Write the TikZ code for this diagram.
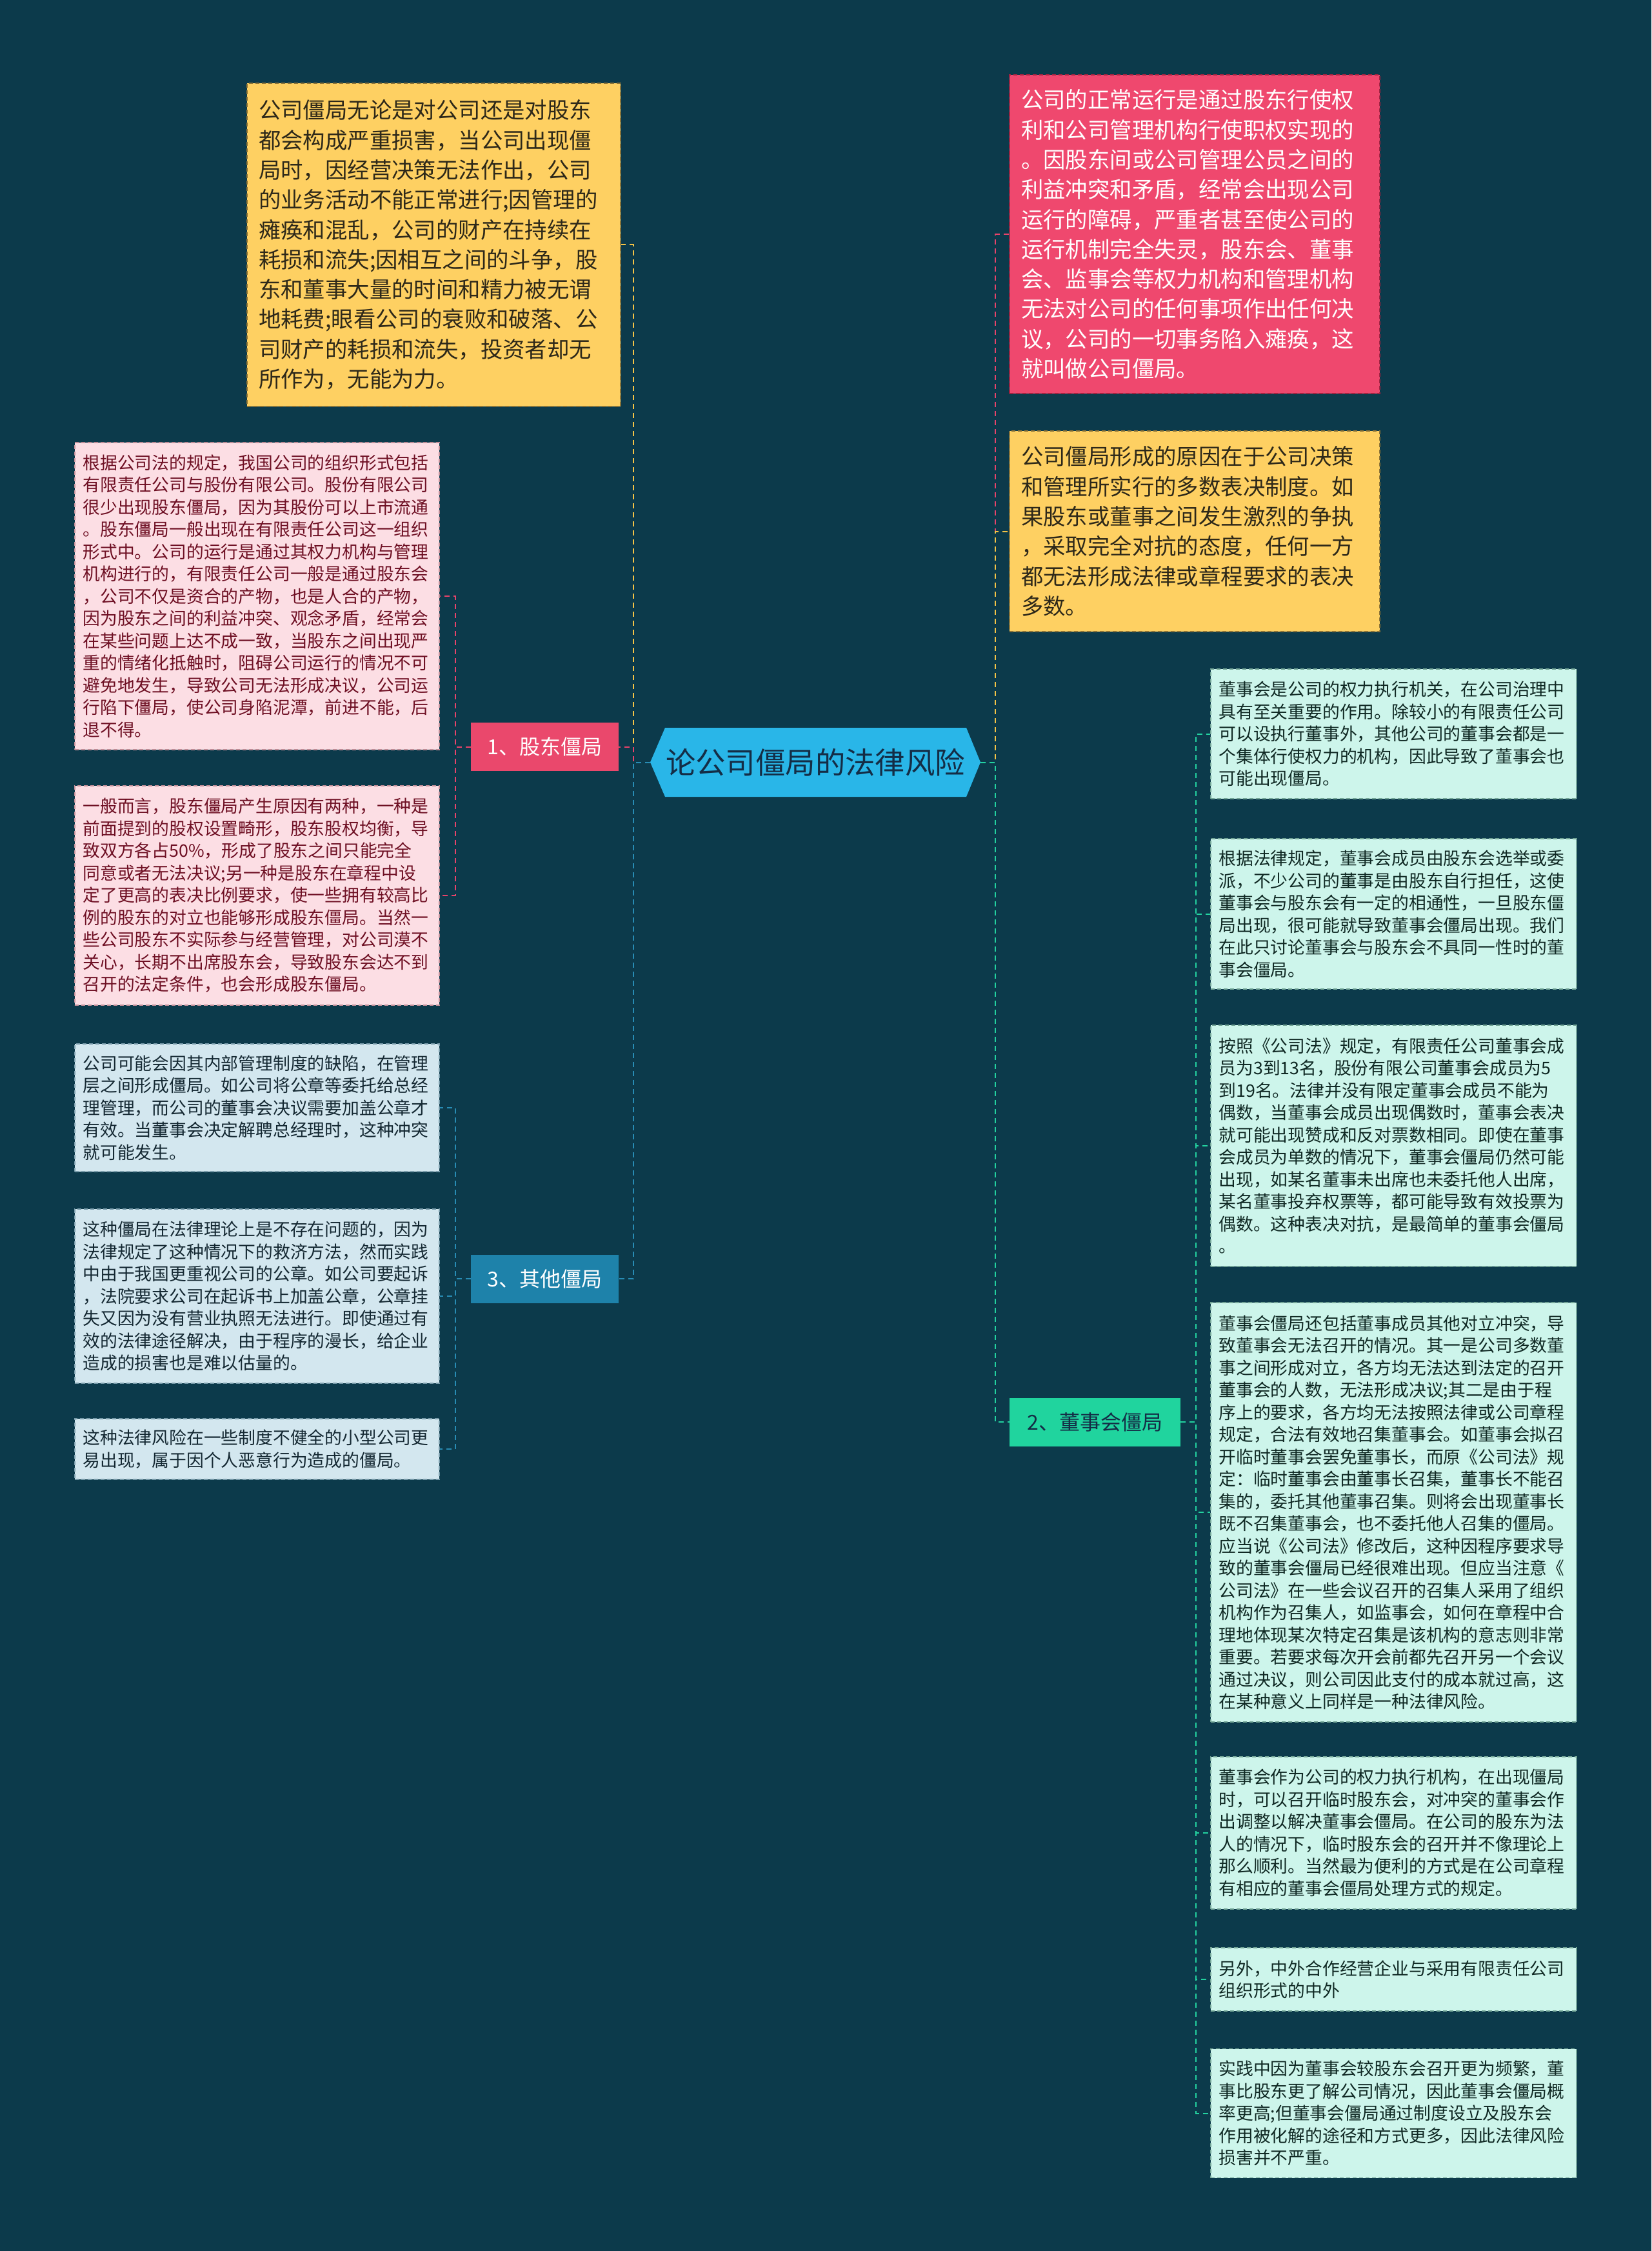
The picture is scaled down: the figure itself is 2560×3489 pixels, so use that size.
\documentclass[tikz,border=0pt]{standalone}
\usepackage{fontspec}
\setmainfont{Noto Sans CJK SC}
\usetikzlibrary{calc}
\definecolor{bgc}{RGB}{12,58,75}
\definecolor{ylfill}{RGB}{254,208,98}
\definecolor{ylline}{RGB}{140,115,55}
\definecolor{yltext}{RGB}{45,40,25}
\definecolor{rdfill}{RGB}{239,72,110}
\definecolor{rdline}{RGB}{160,35,65}
\definecolor{pkfill}{RGB}{252,222,228}
\definecolor{pkline}{RGB}{190,140,150}
\definecolor{pktext}{RGB}{110,15,35}
\definecolor{blfill}{RGB}{211,231,239}
\definecolor{blline}{RGB}{120,155,170}
\definecolor{bltext}{RGB}{20,40,50}
\definecolor{gnfill}{RGB}{205,245,235}
\definecolor{gnline}{RGB}{115,165,150}
\definecolor{gntext}{RGB}{15,40,35}
\definecolor{cfill}{RGB}{41,182,232}
\definecolor{ctext}{RGB}{20,45,70}
\definecolor{b1fill}{RGB}{234,72,108}
\definecolor{b3fill}{RGB}{30,130,170}
\definecolor{b2fill}{RGB}{32,212,158}
\definecolor{lnyl}{RGB}{245,195,70}
\definecolor{lnrd}{RGB}{232,67,106}
\definecolor{lnbl}{RGB}{40,140,180}
\definecolor{lngn}{RGB}{35,210,160}
\tikzset{
  txtS/.style={font=\fontsize{13.4}{17.25}\selectfont, align=left, inner sep=0pt},
  txtL/.style={font=\fontsize{17.2}{23.15}\selectfont, align=left, inner sep=0pt},
  bord/.style={line width=0.6pt, dash pattern=on 3pt off 2pt},
  ylbox/.style={txtL, bord, fill=ylfill, draw=ylline, text=yltext},
  rdbox/.style={txtL, bord, fill=rdfill, draw=rdline, text=white},
  pkbox/.style={txtS, bord, fill=pkfill, draw=pkline, text=pktext, minimum width=282.5pt, text width=270pt},
  blbox/.style={txtS, bord, fill=blfill, draw=blline, text=bltext, minimum width=282.5pt, text width=270pt},
  gnbox/.style={txtS, bord, fill=gnfill, draw=gnline, text=gntext, minimum width=283.5pt, text width=271pt},
  branch/.style={font=\fontsize{16}{20}\selectfont, inner sep=0pt, minimum height=37.5pt},
  conn/.style={line width=1pt, dash pattern=on 4pt off 3pt},
}
\begin{document}
\begin{tikzpicture}[x=0.5pt,y=-0.5pt]
\useasboundingbox (0,0) rectangle (2560,3489);
\fill[bgc] (0,0) rectangle (2560,3489);

% center hexagon
\fill[cfill] (1008,1181.5) -- (1031,1128) -- (1498,1128) -- (1520,1181.5) -- (1498,1235) -- (1031,1235) -- cycle;
\node[font=\fontsize{23.2}{28}\selectfont, text=ctext, inner sep=0pt, minimum width=256pt, minimum height=53.5pt] (center) at (1264,1181.5) {论公司僵局的法律风险};

% branches
\node[branch, fill=b1fill, text=white, minimum width=114.5pt] (br1) at (844.5,1157.5) {1、股东僵局};
\node[branch, fill=b3fill, text=white, minimum width=114.5pt] (br3) at (844.5,1982) {3、其他僵局};
\node[branch, fill=b2fill, text=ctext, minimum width=132.5pt] (br2) at (1697.5,2204) {2、董事会僵局};

% top left yellow
\node[ylbox, minimum width=289.5pt, minimum height=250.5pt, text width=271.5pt] (ylA) at (672.5,379.5) {公司僵局无论是对公司还是对股东\\都会构成严重损害，当公司出现僵\\局时，因经营决策无法作出，公司\\的业务活动不能正常进行;因管理的\\瘫痪和混乱，公司的财产在持续在\\耗损和流失;因相互之间的斗争，股\\东和董事大量的时间和精力被无谓\\地耗费;眼看公司的衰败和破落、公\\司财产的耗损和流失，投资者却无\\所作为，无能为力。};

% top right red
\node[rdbox, minimum width=287pt, minimum height=247pt, text width=269pt] (rdA) at (1852,363) {公司的正常运行是通过股东行使权\\利和公司管理机构行使职权实现的\\。因股东间或公司管理公员之间的\\利益冲突和矛盾，经常会出现公司\\运行的障碍，严重者甚至使公司的\\运行机制完全失灵，股东会、董事\\会、监事会等权力机构和管理机构\\无法对公司的任何事项作出任何决\\议，公司的一切事务陷入瘫痪，这\\就叫做公司僵局。};

% right yellow
\node[ylbox, minimum width=287pt, minimum height=155.5pt, text width=269pt] (ylB) at (1852,823.5) {公司僵局形成的原因在于公司决策\\和管理所实行的多数表决制度。如\\果股东或董事之间发生激烈的争执\\，采取完全对抗的态度，任何一方\\都无法形成法律或章程要求的表决\\多数。};

% pink boxes
\node[pkbox, minimum height=238pt] (pk1) at (398.5,924) {根据公司法的规定，我国公司的组织形式包括\\有限责任公司与股份有限公司。股份有限公司\\很少出现股东僵局，因为其股份可以上市流通\\。股东僵局一般出现在有限责任公司这一组织\\形式中。公司的运行是通过其权力机构与管理\\机构进行的，有限责任公司一般是通过股东会\\，公司不仅是资合的产物，也是人合的产物，\\因为股东之间的利益冲突、观念矛盾，经常会\\在某些问题上达不成一致，当股东之间出现严\\重的情绪化抵触时，阻碍公司运行的情况不可\\避免地发生，导致公司无法形成决议，公司运\\行陷下僵局，使公司身陷泥潭，前进不能，后\\退不得。};
\node[pkbox, minimum height=170pt] (pk2) at (398.5,1388) {一般而言，股东僵局产生原因有两种，一种是\\前面提到的股权设置畸形，股东股权均衡，导\\致双方各占50\%，形成了股东之间只能完全\\同意或者无法决议;另一种是股东在章程中设\\定了更高的表决比例要求，使一些拥有较高比\\例的股东的对立也能够形成股东僵局。当然一\\些公司股东不实际参与经营管理，对公司漠不\\关心，长期不出席股东会，导致股东会达不到\\召开的法定条件，也会形成股东僵局。};

% blue boxes
\node[blbox, minimum height=99pt] (bl1) at (398.5,1717) {公司可能会因其内部管理制度的缺陷，在管理\\层之间形成僵局。如公司将公章等委托给总经\\理管理，而公司的董事会决议需要加盖公章才\\有效。当董事会决定解聘总经理时，这种冲突\\就可能发生。};
\node[blbox, minimum height=135pt] (bl2) at (398.5,2009) {这种僵局在法律理论上是不存在问题的，因为\\法律规定了这种情况下的救济方法，然而实践\\中由于我国更重视公司的公章。如公司要起诉\\，法院要求公司在起诉书上加盖公章，公章挂\\失又因为没有营业执照无法进行。即使通过有\\效的法律途径解决，由于程序的漫长，给企业\\造成的损害也是难以估量的。};
\node[blbox, minimum height=47pt] (bl3) at (398.5,2246) {这种法律风险在一些制度不健全的小型公司更\\易出现，属于因个人恶意行为造成的僵局。};

% green boxes
\node[gnbox, minimum height=100.5pt] (g1) at (2160.5,1137.5) {董事会是公司的权力执行机关，在公司治理中\\具有至关重要的作用。除较小的有限责任公司\\可以设执行董事外，其他公司的董事会都是一\\个集体行使权力的机构，因此导致了董事会也\\可能出现僵局。};
\node[gnbox, minimum height=116.5pt] (g2) at (2160.5,1416.5) {根据法律规定，董事会成员由股东会选举或委\\派，不少公司的董事是由股东自行担任，这使\\董事会与股东会有一定的相通性，一旦股东僵\\局出现，很可能就导致董事会僵局出现。我们\\在此只讨论董事会与股东会不具同一性时的董\\事会僵局。};
\node[gnbox, minimum height=187pt] (g3) at (2160.5,1776) {按照《公司法》规定，有限责任公司董事会成\\员为3到13名，股份有限公司董事会成员为5\\到19名。法律并没有限定董事会成员不能为\\偶数，当董事会成员出现偶数时，董事会表决\\就可能出现赞成和反对票数相同。即使在董事\\会成员为单数的情况下，董事会僵局仍然可能\\出现，如某名董事未出席也未委托他人出席，\\某名董事投弃权票等，都可能导致有效投票为\\偶数。这种表决对抗，是最简单的董事会僵局\\。};
\node[gnbox, minimum height=325pt] (g4) at (2160.5,2344) {董事会僵局还包括董事成员其他对立冲突，导\\致董事会无法召开的情况。其一是公司多数董\\事之间形成对立，各方均无法达到法定的召开\\董事会的人数，无法形成决议;其二是由于程\\序上的要求，各方均无法按照法律或公司章程\\规定，合法有效地召集董事会。如董事会拟召\\开临时董事会罢免董事长，而原《公司法》规\\定：临时董事会由董事长召集，董事长不能召\\集的，委托其他董事召集。则将会出现董事长\\既不召集董事会，也不委托他人召集的僵局。\\应当说《公司法》修改后，这种因程序要求导\\致的董事会僵局已经很难出现。但应当注意《\\公司法》在一些会议召开的召集人采用了组织\\机构作为召集人，如监事会，如何在章程中合\\理地体现某次特定召集是该机构的意志则非常\\重要。若要求每次开会前都先召开另一个会议\\通过决议，则公司因此支付的成本就过高，这\\在某种意义上同样是一种法律风险。};
\node[gnbox, minimum height=118pt] (g5) at (2160.5,2841) {董事会作为公司的权力执行机构，在出现僵局\\时，可以召开临时股东会，对冲突的董事会作\\出调整以解决董事会僵局。在公司的股东为法\\人的情况下，临时股东会的召开并不像理论上\\那么顺利。当然最为便利的方式是在公司章程\\有相应的董事会僵局处理方式的规定。};
\node[gnbox, minimum height=49pt] (g6) at (2160.5,3068) {另外，中外合作经营企业与采用有限责任公司\\组织形式的中外};
\node[gnbox, minimum height=100pt] (g7) at (2160.5,3275.5) {实践中因为董事会较股东会召开更为频繁，董\\事比股东更了解公司情况，因此董事会僵局概\\率更高;但董事会僵局通过制度设立及股东会\\作用被化解的途径和方式更多，因此法律风险\\损害并不严重。};

% connectors from center
\draw[conn, lnyl] (center.west) -- ++(-26,0) |- (ylA.east);
\draw[conn, lnrd] (center.west) -- ++(-26,0) |- (br1.east);
\draw[conn, lnbl] (center.west) -- ++(-26,0) |- (br3.east);
\draw[conn, lnrd] (center.east) -- ++(23,0) |- (rdA.west);
\draw[conn, lnyl] (center.east) -- ++(23,0) |- (ylB.west);
\draw[conn, lngn] (center.east) -- ++(23,0) |- (br2.west);

% branch 1
\draw[conn, lnrd] (br1.west) -- ++(-24,0) |- (pk1.east);
\draw[conn, lnrd] (br1.west) -- ++(-24,0) |- (pk2.east);
% branch 3
\draw[conn, lnbl] (br3.west) -- ++(-24,0) |- (bl1.east);
\draw[conn, lnbl] (br3.west) -- ++(-24,0) |- (bl2.east);
\draw[conn, lnbl] (br3.west) -- ++(-24,0) |- (bl3.east);
% branch 2
\foreach \g in {g1,g2,g3,g4,g5,g6,g7}
  \draw[conn, lngn] (br2.east) -- ++(24,0) |- (\g.west);
\end{tikzpicture}
\end{document}
